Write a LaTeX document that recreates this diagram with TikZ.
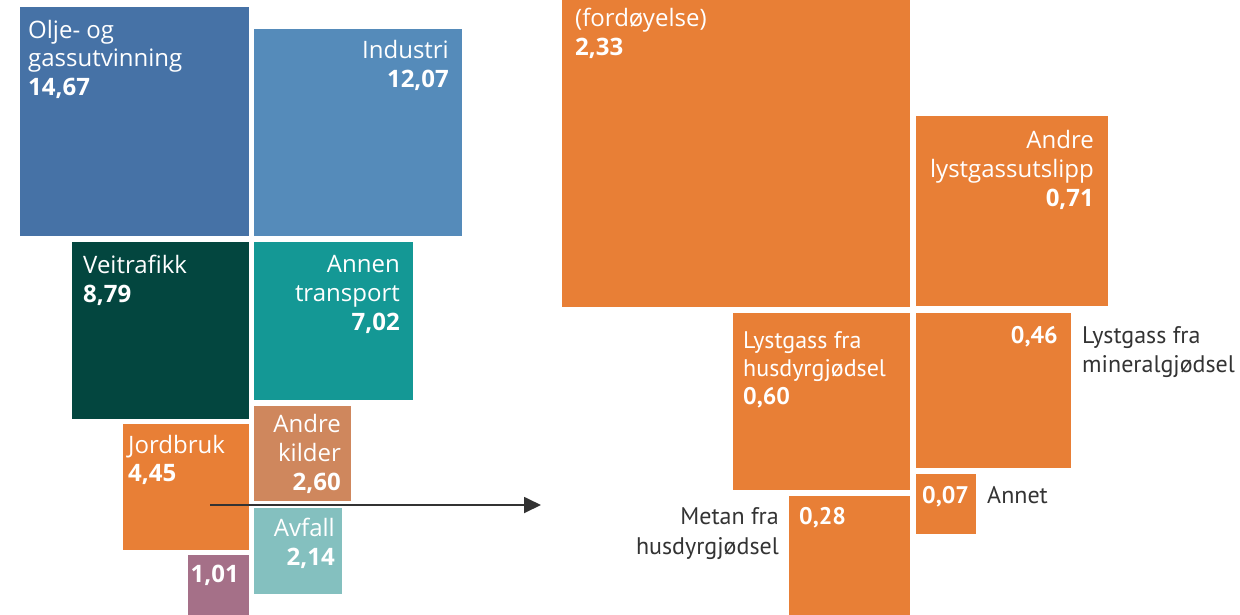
\documentclass[tikz,border=0pt]{standalone}
\usepackage{fontspec}
\setmainfont{Open Sans}
\newfontfamily\humsans{PT Sans}
\usetikzlibrary{arrows.meta}
\definecolor{oljeblue}{HTML}{4672A6}
\definecolor{indblue}{HTML}{558BBA}
\definecolor{veiteal}{HTML}{03463F}
\definecolor{transteal}{HTML}{149895}
\definecolor{jordorange}{HTML}{E87F36}
\definecolor{kildebrown}{HTML}{CF875D}
\definecolor{avfallmint}{HTML}{84C0BF}
\definecolor{annetmauve}{HTML}{A57088}
\definecolor{inkgray}{HTML}{333333}
\begin{document}
\begin{tikzpicture}[x=1pt, y=-1pt,
  tile/.style={inner sep=0pt, outer sep=0pt, anchor=north west},
  lbl/.style={text=white, inner sep=0pt, align=left, anchor=north west, font=\fontsize{24}{28.5}\selectfont},
  rlbl/.style={text=white, inner sep=0pt, align=right, anchor=north east, font=\fontsize{24}{29}\selectfont},
  hlbl/.style={text=white, inner sep=0pt, align=left, anchor=north west, font=\humsans\fontsize{24}{28}\selectfont},
  hrlbl/.style={text=white, inner sep=0pt, align=right, anchor=north east, font=\humsans\fontsize{24}{28}\selectfont},
  outlbl/.style={text=inkgray, inner sep=0pt, align=left, anchor=north west, font=\humsans\fontsize{24}{29}\selectfont},
  outrlbl/.style={text=inkgray, inner sep=0pt, align=right, anchor=north east, font=\humsans\fontsize{24}{30}\selectfont},
  link/.style={draw=black!80, line width=1.8pt, -{Triangle[length=17pt, width=16pt]}}
]
\useasboundingbox (0,0) rectangle (1240,614);
\clip (0,0) rectangle (1240,614);
\node[tile, fill=oljeblue, minimum width=229, minimum height=229] (olje) at (20,7) {};
\node[tile, fill=indblue, minimum width=208, minimum height=207] (industri) at (254,29) {};
\node[tile, fill=veiteal, minimum width=177, minimum height=177] (veitrafikk) at (72,242) {};
\node[tile, fill=transteal, minimum width=159, minimum height=158] (transport) at (254,242) {};
\node[tile, fill=jordorange, minimum width=126, minimum height=126] (jordbruk) at (123,424) {};
\node[tile, fill=kildebrown, minimum width=97, minimum height=95] (kilder) at (254,406) {};
\node[tile, fill=avfallmint, minimum width=88, minimum height=86] (avfall) at (254,508) {};
\node[tile, fill=annetmauve, minimum width=61, minimum height=61] (annetv) at (188,555) {};
\node[tile, fill=jordorange, minimum width=348, minimum height=348] (fordoy) at (562,-41) {};
\node[tile, fill=jordorange, minimum width=192, minimum height=190] (andrelyst) at (916,116) {};
\node[tile, fill=jordorange, minimum width=177, minimum height=177] (lyshusdyr) at (733,313) {};
\node[tile, fill=jordorange, minimum width=155, minimum height=155] (lysmineral) at (916,313) {};
\node[tile, fill=jordorange, minimum width=60, minimum height=60] (annetj) at (916,474) {};
\node[tile, fill=jordorange, minimum width=121, minimum height=121] (metanhusdyr) at (789,496) {};
\node[lbl] (oljetxt) at (28,20) {Olje- og\\gassutvinning\\\textbf{14,67}};
\node[rlbl] (industritxt) at (449,40) {Industri\\\textbf{12,07}};
\node[lbl] (veitxt) at (83,255) {Veitrafikk\\\textbf{8,79}};
\node[rlbl] (transtxt) at (400,255) {Annen\\transport\\\textbf{7,02}};
\node[lbl] (jordtxt) at (128,435) {Jordbruk\\\textbf{4,45}};
\node[rlbl] (kildetxt) at (341,414) {Andre\\kilder\\\textbf{2,60}};
\node[rlbl] (avfalltxt) at (335,518) {Avfall\\\textbf{2,14}};
\node[rlbl] (annetvtxt) at (239,565) {\textbf{1,01}};
\node[lbl] (fordoytxt) at (575,8) {(fordøyelse)\\\textbf{2,33}};
\node[rlbl] (andrelysttxt) at (1094,130) {Andre\\lystgassutslipp\\\textbf{0,71}};
\node[hlbl] (lyshusdyrtxt) at (743,331) {Lystgass fra\\husdyrgjødsel\\\textbf{0,60}};
\node[hrlbl] (lysmineraltxt) at (1058,326) {\textbf{0,46}};
\node[hlbl] (annetjtxt) at (922,486) {\textbf{0,07}};
\node[hlbl] (metantxt) at (799,507) {\textbf{0,28}};
\node[outlbl] (mineralname) at (1082,326) {Lystgass fra\\mineralgjødsel};
\node[outlbl] (annetname) at (987,486) {Annet};
\node[outrlbl] (metanname) at (779,507) {Metan fra\\husdyrgjødsel};
\coordinate (jordfoot) at (210,505);
\coordinate (zoomin) at (541,505);
\draw[link] (jordfoot) -- (zoomin);
\end{tikzpicture}
\end{document}
